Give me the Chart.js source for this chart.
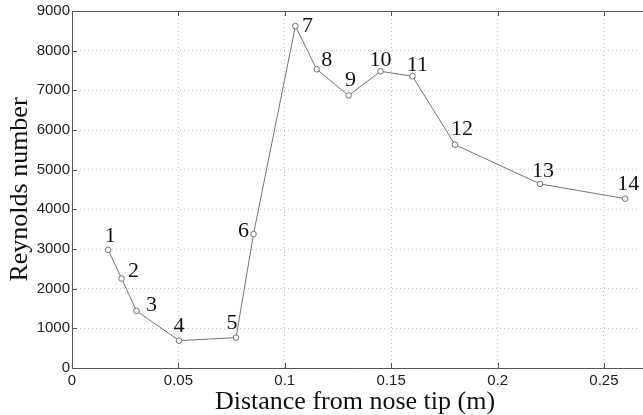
<!DOCTYPE html>
<html>
<head>
<meta charset="utf-8">
<script src="https://cdn.jsdelivr.net/npm/chart.js@4.4.0/dist/chart.umd.min.js"></script>
<style>
  html, body { margin: 0; padding: 0; background: #fff; }
  #wrap { width: 643px; height: 415px; }
</style>
</head>
<body>
<div id="wrap"><canvas id="reChart" width="643" height="415"></canvas></div>
<script>
// datos
const distances = [0.017, 0.0233, 0.0303, 0.0503, 0.0771, 0.0853, 0.105, 0.115, 0.130, 0.145, 0.160, 0.180, 0.220, 0.260];
const reynolds = [2980, 2255, 1440, 690, 765, 3375, 8620, 7530, 6870, 7480, 7355, 5630, 4640, 4270];
const pointNames = ['1', '2', '3', '4', '5', '6', '7', '8', '9', '10', '11', '12', '13', '14'];
const xTicks = [0, 0.05, 0.1, 0.15, 0.2, 0.25];
const yTicks = [0, 1000, 2000, 3000, 4000, 5000, 6000, 7000, 8000, 9000];

// desplazamiento de cada etiqueta respecto a su punto (px)
const labelOffsets = [
  [2, -14], [12, -7], [15, -6], [0, -14], [-4, -14], [-10, -3], [12, 0],
  [10, -9], [2, -15], [0, -11], [5, -11], [7, -15], [3, -13], [3, -14]
];

const SERIF = '"Liberation Serif", "DejaVu Serif", serif';
const SANS = '"Liberation Sans", Arial, sans-serif';

// marco y marcas interiores estilo MATLAB
const framePlugin = {
  id: 'frame',
  afterDraw(chart) {
    const { ctx, chartArea: a, scales } = chart;
    ctx.save();
    ctx.strokeStyle = '#555';
    ctx.lineWidth = 1;
    ctx.beginPath();
    ctx.moveTo(a.left + 0.5, a.top + 0.5);
    ctx.lineTo(chart.width, a.top + 0.5);
    ctx.moveTo(a.left + 0.5, a.top);
    ctx.lineTo(a.left + 0.5, a.bottom + 0.5);
    ctx.lineTo(chart.width, a.bottom + 0.5);
    xTicks.forEach(v => {
      const px = Math.round(scales.x.getPixelForValue(v)) + 0.5;
      ctx.moveTo(px, a.bottom); ctx.lineTo(px, a.bottom - 5);
      ctx.moveTo(px, a.top); ctx.lineTo(px, a.top + 5);
    });
    yTicks.forEach(v => {
      const py = Math.round(scales.y.getPixelForValue(v)) + 0.5;
      ctx.moveTo(a.left, py); ctx.lineTo(a.left + 5, py);
    });
    ctx.stroke();
    ctx.restore();
  }
};

// numeros de cada punto
const pointLabelPlugin = {
  id: 'pointLabels',
  afterDatasetsDraw(chart) {
    const { ctx } = chart;
    const meta = chart.getDatasetMeta(0);
    ctx.save();
    ctx.font = '22px ' + SERIF;
    ctx.fillStyle = '#111';
    ctx.textAlign = 'center';
    ctx.textBaseline = 'middle';
    meta.data.forEach((pt, i) => {
      const off = labelOffsets[i];
      ctx.fillText(pointNames[i], pt.x + off[0], pt.y + off[1]);
    });
    ctx.restore();
  }
};

new Chart(document.getElementById('reChart'), {
  type: 'scatter',
  data: {
    datasets: [{
      data: distances.map((d, i) => ({ x: d, y: reynolds[i] })),
      showLine: true,
      borderColor: '#747474',
      borderWidth: 1,
      pointRadius: 2.8,
      pointBorderWidth: 1,
      pointBorderColor: '#6e6e6e',
      pointBackgroundColor: '#fff'
    }]
  },
  options: {
    responsive: false,
    animation: false,
    layout: { padding: { top: 11, right: 0, left: 0, bottom: 0 } },
    plugins: { legend: { display: false }, tooltip: { enabled: false } },
    scales: {
      x: {
        type: 'linear',
        min: 0,
        max: 0.266,
        afterBuildTicks: axis => { axis.ticks = xTicks.map(v => ({ value: v })); },
        afterFit: axis => { axis.height = 47; },
        border: { display: false, dash: [1, 3] },
        grid: { color: '#c4c4c4', drawTicks: false, tickLength: 0 },
        ticks: {
          padding: 4,
          color: '#222',
          font: { family: SANS, size: 15 },
          callback: v => String(v)
        },
        title: {
          display: true,
          text: 'Distance from nose tip (m)',
          color: '#111',
          font: { family: SERIF, size: 26 },
          padding: { top: 0, bottom: -3 }
        }
      },
      y: {
        min: 0,
        max: 9000,
        afterBuildTicks: axis => { axis.ticks = yTicks.map(v => ({ value: v })); },
        afterFit: axis => { axis.width = 72; },
        border: { display: false, dash: [1, 3] },
        grid: { color: '#c4c4c4', drawTicks: false, tickLength: 0 },
        ticks: {
          padding: 2,
          color: '#222',
          font: { family: SANS, size: 15 },
          callback: v => String(v)
        },
        title: {
          display: true,
          text: 'Reynolds number',
          color: '#111',
          font: { family: SERIF, size: 26 },
          padding: { top: 5, bottom: 0 }
        }
      }
    }
  },
  plugins: [framePlugin, pointLabelPlugin]
});
</script>
</body>
</html>
